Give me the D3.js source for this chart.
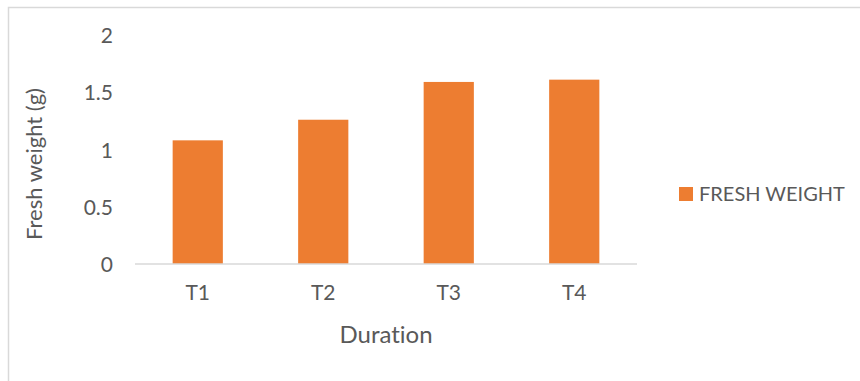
<!DOCTYPE html>
<html>
<head>
<meta charset="utf-8">
<script src="https://cdn.jsdelivr.net/npm/d3@7"></script>
<style>
  body { margin: 0; background: #fff; }
  svg text { font-family: Lato, "Open Sans", sans-serif; fill: #595959; font-variant-ligatures: none; }
</style>
</head>
<body>
<svg id="chart" width="860" height="381"></svg>
<script>
// data
var categories = ["T1", "T2", "T3", "T4"];
var freshWeight = [1.08, 1.26, 1.59, 1.61];
var yTicks = [0, 0.5, 1, 1.5, 2];
var seriesName = "FRESH WEIGHT";

var svg = d3.select("#chart");

// outer frame (only left and top edges show in the picture)
svg.append("path")
    .attr("d", "M8.5,381V7.5H860")
    .attr("fill", "none")
    .attr("stroke", "#d9d9d9")
    .attr("stroke-width", 1.5);

var x = d3.scaleBand()
    .domain(categories)
    .range([135, 637])
    .paddingInner(0.6)
    .paddingOuter(0.3);

var y = d3.scaleLinear()
    .domain([0, 2])
    .range([264, 35]);

// bars
svg.selectAll(".bar")
    .data(freshWeight)
  .enter().append("rect")
    .attr("class", "bar")
    .attr("x", function(d, i) { return x(categories[i]); })
    .attr("y", function(d) { return y(d); })
    .attr("width", x.bandwidth())
    .attr("height", function(d) { return y(0) - y(d); })
    .attr("fill", "#ed7d31");

// y axis labels, no line
var yAxis = svg.append("g")
    .attr("transform", "translate(135,0)")
    .call(d3.axisLeft(y).tickValues(yTicks).tickSize(0).tickPadding(22).tickFormat(d3.format("")));
yAxis.select(".domain").remove();
yAxis.selectAll("text").style("font-size", "21px").attr("dy", "0.36em");

// x axis
var xAxis = svg.append("g")
    .attr("transform", "translate(0,264)")
    .call(d3.axisBottom(x).tickSize(0).tickPadding(28));
xAxis.select(".domain").attr("stroke", "#d9d9d9").attr("stroke-width", 1.5)
    .attr("d", "M135,0H637");
xAxis.selectAll("text").style("font-size", "21px").attr("dy", "0.36em");

// axis titles
svg.append("text")
    .attr("x", 386)
    .attr("y", 343)
    .attr("text-anchor", "middle")
    .style("font-size", "24px")
    .text("Duration");

svg.append("text")
    .attr("transform", "translate(42,164) rotate(-90)")
    .attr("text-anchor", "middle")
    .style("font-size", "22px")
    .text("Fresh weight (g)");

// legend
var legend = svg.append("g").attr("transform", "translate(679,187)");
legend.append("rect")
    .attr("width", 14)
    .attr("height", 14)
    .attr("fill", "#ed7d31");
legend.append("text")
    .attr("x", 20)
    .attr("y", 7)
    .attr("dy", "0.36em")
    .style("font-size", "20px")
    .text(seriesName);
</script>
</body>
</html>
